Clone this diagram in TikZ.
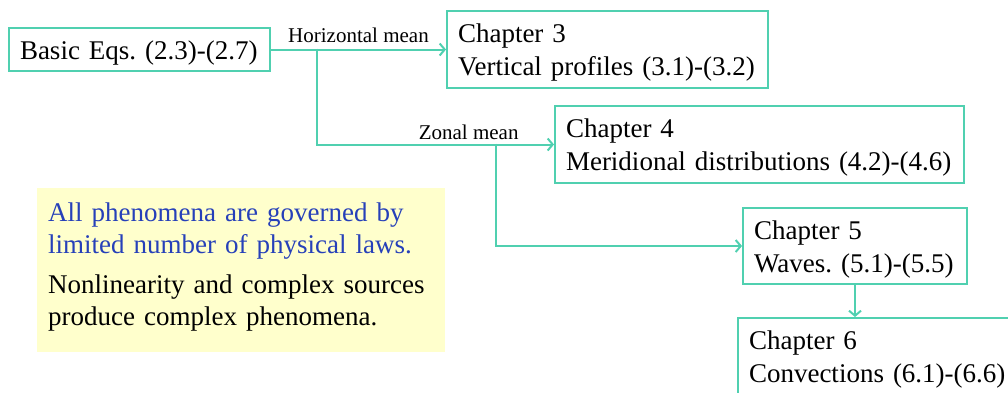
\documentclass[tikz,border=0pt]{standalone}
\usepackage{fontspec}
\setmainfont{Liberation Serif}
\usepackage{xcolor}
\usetikzlibrary{arrows.meta, positioning, calc}
\definecolor{boxline}{RGB}{80,208,176}
\definecolor{notefill}{RGB}{255,255,204}
\definecolor{lawblue}{RGB}{38,64,185}
\frenchspacing
\tikzset{
  chapbox/.style={draw=boxline, line width=2pt, anchor=north west, align=left,
    inner xsep=11pt, inner ysep=0pt, minimum height=77pt,
    font=\fontsize{27}{33}\selectfont, execute at begin node={\rule{0pt}{25pt}}},
  flow/.style={draw=boxline, line width=2pt, -{Straight Barb[length=5pt,width=12pt]}},
  meanlabel/.style={inner sep=1pt, font=\fontsize{21}{25}\selectfont},
  notebox/.style={fill=notefill, anchor=north west, inner sep=0pt, minimum width=408pt, minimum height=164pt},
  notetext/.style={anchor=base west, inner sep=0pt, text width=385pt, align=left, font=\fontsize{27}{32}\selectfont}
}
\begin{document}
\begin{tikzpicture}[x=1pt, y=-1pt]
  \useasboundingbox (0,0) rectangle (1008,392);
  \clip (0,0) rectangle (1008,392);
  % Boxes
  \node[chapbox, minimum height=43pt, text width=239pt] (basic) at (8,27) {Basic Eqs. (2.3)-(2.7)};
  \node[chapbox, text width=299pt] (ch3) at (446,10) {Chapter 3\\Vertical profiles (3.1)-(3.2)};
  \node[chapbox, text width=387pt] (ch4) at (554,105) {Chapter 4\\Meridional distributions (4.2)-(4.6)};
  \node[chapbox, minimum height=76pt, text width=202pt] (ch5) at (742,207) {Chapter 5\\Waves. (5.1)-(5.5)};
  \node[chapbox, text width=268pt] (ch6) at (737,317) {Chapter 6\\Convections (6.1)-(6.6)};

  % Connectors
  \coordinate (hsplit) at (317,48.5);
  \coordinate (zsplit) at (496,143.5);
  \draw[flow] (basic.east) -- node[meanlabel, above=4.5pt] (hmean) {Horizontal mean} (ch3.west);
  \draw[flow] (hsplit) |- node[meanlabel, pos=0.82, above=3pt] (zmean) {Zonal mean} (ch4.west);
  \draw[flow] (zsplit) |- (ch5.west);
  \draw[flow] (ch5.south) -- (ch5.south |- ch6.north);

  % Note
  \node[notebox] (note) at (37,188) {};
  \node[notetext] (laws) at (48,221) {\color{lawblue}All phenomena are governed by\\limited number of physical laws.\\[8pt]\color{black}Nonlinearity and complex sources\\produce complex phenomena.};
\end{tikzpicture}
\end{document}
